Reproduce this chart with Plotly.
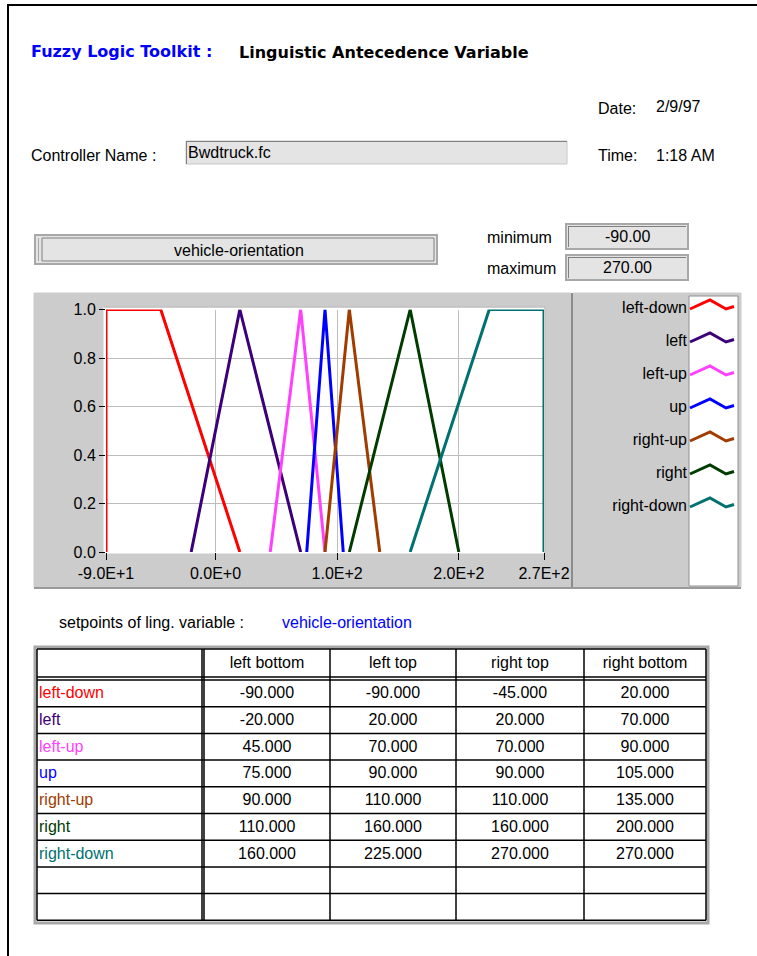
import plotly.graph_objects as go

# ---- page size -------------------------------------------------------------
W, H = 757, 956
FONT = "Liberation Sans, Arial, sans-serif"
TITLE_FONT = "DejaVu Sans, Liberation Sans, sans-serif"

# ---- linguistic variable ---------------------------------------------------
var_name = "vehicle-orientation"
var_min = -90.0
var_max = 270.0
controller = "Bwdtruck.fc"
date_text = "2/9/97"
time_text = "1:18 AM"

# ---- terms and their trapezoid setpoints ------------------------------------
terms = ["left-down", "left", "left-up", "up", "right-up", "right", "right-down"]
left_bottom = [-90, -20, 45, 75, 90, 110, 160]
left_top = [-90, 20, 70, 90, 110, 160, 225]
right_top = [-45, 20, 70, 90, 110, 160, 270]
right_bottom = [20, 70, 90, 105, 135, 200, 270]
term_colors = ["#ff0000", "#3c0078", "#ff40ff", "#0000ff",
               "#a03c00", "#003c00", "#007070"]

# ---- axis ticks --------------------------------------------------------------
x_tickvals = [-90, 0, 100, 200, 270]
x_ticktext = ["-9.0E+1", "0.0E+0", "1.0E+2", "2.0E+2", "2.7E+2"]
y_tickvals = [0.0, 0.2, 0.4, 0.6, 0.8, 1.0]
y_ticktext = ["0.0", "0.2", "0.4", "0.6", "0.8", "1.0"]

# ---- setpoint table ----------------------------------------------------------
col_headers = ["", "left bottom", "left top", "right top", "right bottom"]
blank_rows = 2


def px(x):
    return x / W


def py(y):
    return 1 - y / H


fig = go.Figure()

# membership functions on the main axes
for name, lb, lt, rt, rb, col in zip(terms, left_bottom, left_top,
                                      right_top, right_bottom, term_colors):
    fig.add_trace(go.Scatter(
        x=[lb, lt, rt, rb], y=[0, 1, 1, 0], mode="lines", name=name,
        line=dict(color=col, width=3), xaxis="x", yaxis="y",
        hoverinfo="skip", cliponaxis=False))

# ---- legend (label on the left, zigzag sample on the right) ----------------
LEG_X_TEXT = 687
LEG_X0 = 690
LEG_Y0 = 308.5
LEG_DY = 33
zig_dx = [0, 20, 36, 44]
zig_dy = [0.5, -8.5, 0.5, -2.0]
for i, (name, col) in enumerate(zip(terms, term_colors)):
    yc = LEG_Y0 + LEG_DY * i
    fig.add_trace(go.Scatter(
        x=[LEG_X0 + d for d in zig_dx], y=[yc + d for d in zig_dy],
        mode="lines", line=dict(color=col, width=3),
        xaxis="x2", yaxis="y2", hoverinfo="skip", showlegend=False))
fig.add_trace(go.Scatter(
    x=[LEG_X_TEXT] * len(terms),
    y=[LEG_Y0 + LEG_DY * i for i in range(len(terms))],
    mode="text", text=terms, textposition="middle left",
    textfont=dict(family=FONT, size=16, color="black"),
    xaxis="x2", yaxis="y2", hoverinfo="skip", showlegend=False))

# ---- table geometry ----------------------------------------------------------
col_edges = [37, 204, 330, 456, 584, 706]
head_top, head_bot = 649, 677
body_top = 680
row_h = 26.7
n_rows = len(terms) + blank_rows
row_lines = [body_top + row_h * k for k in range(n_rows + 1)]
col_centers = [(a + b) / 2 for a, b in zip(col_edges[:-1], col_edges[1:])]
row_centers = [body_top + row_h * (k + 0.5) for k in range(len(terms))]

# header texts
fig.add_trace(go.Scatter(
    x=col_centers[1:], y=[(head_top + head_bot) / 2 + 1] * 4,
    mode="text", text=col_headers[1:], textposition="middle center",
    textfont=dict(family=FONT, size=16, color="black"),
    xaxis="x2", yaxis="y2", hoverinfo="skip", showlegend=False))
# row labels
fig.add_trace(go.Scatter(
    x=[col_edges[0] + 2] * len(terms), y=[r + 1 for r in row_centers],
    mode="text", text=terms, textposition="middle right",
    textfont=dict(family=FONT, size=16, color=term_colors),
    xaxis="x2", yaxis="y2", hoverinfo="skip", showlegend=False))
# numeric cells
for c, values in enumerate([left_bottom, left_top, right_top, right_bottom]):
    fig.add_trace(go.Scatter(
        x=[col_centers[c + 1]] * len(values), y=[r + 1 for r in row_centers],
        mode="text", text=[f"{v:.3f}" for v in values],
        textposition="middle center",
        textfont=dict(family=FONT, size=16, color="black"),
        xaxis="x2", yaxis="y2", hoverinfo="skip", showlegend=False))

# ---- shapes ------------------------------------------------------------------
shapes = []


def rect(x0, y0, x1, y1, fill=None, line="#000000", lw=1, layer="below"):
    shapes.append(dict(type="rect", xref="paper", yref="paper",
                       x0=px(x0), x1=px(x1), y0=py(y1), y1=py(y0),
                       fillcolor=fill or "rgba(0,0,0,0)",
                       line=dict(color=line, width=lw), layer=layer))


def hline(x0, x1, y, color="#000000", lw=1, layer="below"):
    shapes.append(dict(type="line", xref="paper", yref="paper",
                       x0=px(x0), x1=px(x1), y0=py(y), y1=py(y),
                       line=dict(color=color, width=lw), layer=layer))


def vline(x, y0, y1, color="#000000", lw=1, layer="below"):
    shapes.append(dict(type="line", xref="paper", yref="paper",
                       x0=px(x), x1=px(x), y0=py(y0), y1=py(y1),
                       line=dict(color=color, width=lw), layer=layer))


# window border
hline(7, W, 5, lw=2)
vline(8, 5, H, lw=2)

# controller name box
rect(186, 141, 567, 164, fill="#e4e4e4", line="#c8c8c8")
hline(186, 567, 141.5, color="#808080")
vline(186.5, 141, 164, color="#808080")

# variable name box
rect(35, 235, 437, 264, fill="#e4e4e4", line="#a8a8a8", lw=2)
rect(42, 238, 434, 261, line="#808080")
vline(38.5, 238, 261, color="#a8a8a8")

# minimum / maximum indicators
for y0 in (224, 255):
    rect(566, y0, 688, y0 + 25, fill="#e4e4e4", line="#a8a8a8", lw=2)
    hline(568, 686, y0 + 2.5, color="#808080")
    vline(568.5, y0 + 2, y0 + 23, color="#808080")

# graph panel, legend panel
rect(34, 293, 571, 588, fill="#cccccc", line="#cccccc")
rect(573, 293, 741, 588, fill="#cccccc", line="#cccccc")
vline(572, 293, 588, color="#8c8c8c", lw=2)
hline(34, 741, 588, color="#9a9a9a", lw=2)
rect(689, 296, 738, 586, fill="#ffffff", line="#909090")
# plotting area
rect(104, 307, 545, 553, fill="#ffffff", line="#ffffff")
hline(104, 545, 307, color="#a0a0a0")
vline(545, 307, 553, color="#a0a0a0")

# table frame and grid
rect(35, 647, 708, 923, fill="#ffffff", line="#a8a8a8", lw=3)
for y in [head_top, head_bot] + row_lines:
    hline(col_edges[0], col_edges[-1], y, lw=1.5)
for x in col_edges:
    vline(x, head_top, row_lines[-1], lw=1.5)
vline(col_edges[1] - 2, head_top, row_lines[-1], lw=1.5)

fig.update_layout(shapes=shapes)

# ---- free texts ------------------------------------------------------------
annotations = []


def label(x, y, text, size=16, color="black", bold=False, anchor="left",
          family=FONT):
    t = f"<b>{text}</b>" if bold else text
    annotations.append(dict(xref="paper", yref="paper", x=px(x), y=py(y),
                            text=t, showarrow=False, xanchor=anchor,
                            yanchor="middle", borderpad=0,
                            font=dict(family=family, size=size, color=color)))


label(30, 52, "Fuzzy Logic Toolkit :", size=16, color="#0000ff", bold=True,
      family=TITLE_FONT)
label(238, 53, "Linguistic Antecedence Variable", size=16, bold=True,
      family=TITLE_FONT)
label(597, 108, "Date:", size=16)
label(655, 106, date_text, size=16)
label(30, 155, "Controller Name :", size=16)
label(187, 153, controller, size=16)
label(597, 155, "Time:", size=16)
label(655, 155, time_text, size=16)
label(239, 250, var_name, size=16, anchor="center")
label(486, 237, "minimum", size=16)
label(486, 268, "maximum", size=16)
label(627, 236, f"{var_min:.2f}", size=16, anchor="center")
label(627, 267, f"{var_max:.2f}", size=16, anchor="center")
label(58, 622, "setpoints of ling. variable :", size=16)
label(281, 622, var_name, size=16, color="#0000ff")

fig.update_layout(
    annotations=annotations,
    width=W, height=H,
    margin=dict(l=0, r=0, t=0, b=0, autoexpand=False),
    paper_bgcolor="#ffffff",
    plot_bgcolor="rgba(0,0,0,0)",
    showlegend=False,
    font=dict(family=FONT, size=16, color="black"),
    xaxis=dict(domain=[px(106), px(544)], range=[var_min, var_max],
               tickvals=x_tickvals, ticktext=x_ticktext,
               showgrid=True, gridcolor="#bdbdbd", gridwidth=1,
               zeroline=False, showline=False, ticks="outside", ticklen=7,
               tickcolor="#000000", tickwidth=1, anchor="y", automargin=False,
               tickfont=dict(family=FONT, size=16), fixedrange=True),
    yaxis=dict(domain=[py(552), py(309.5)], range=[0, 1],
               tickvals=y_tickvals, ticktext=y_ticktext,
               showgrid=True, gridcolor="#bdbdbd", gridwidth=1,
               zeroline=False, showline=False, ticks="outside", ticklen=6,
               tickcolor="#000000", tickwidth=1, anchor="x", automargin=False,
               tickfont=dict(family=FONT, size=16), fixedrange=True),
    xaxis2=dict(domain=[0, 1], range=[0, W], visible=False, anchor="y2",
                automargin=False, fixedrange=True),
    yaxis2=dict(domain=[0, 1], range=[H, 0], visible=False, anchor="x2",
                automargin=False, fixedrange=True),
)

fig.write_html("out.html")
